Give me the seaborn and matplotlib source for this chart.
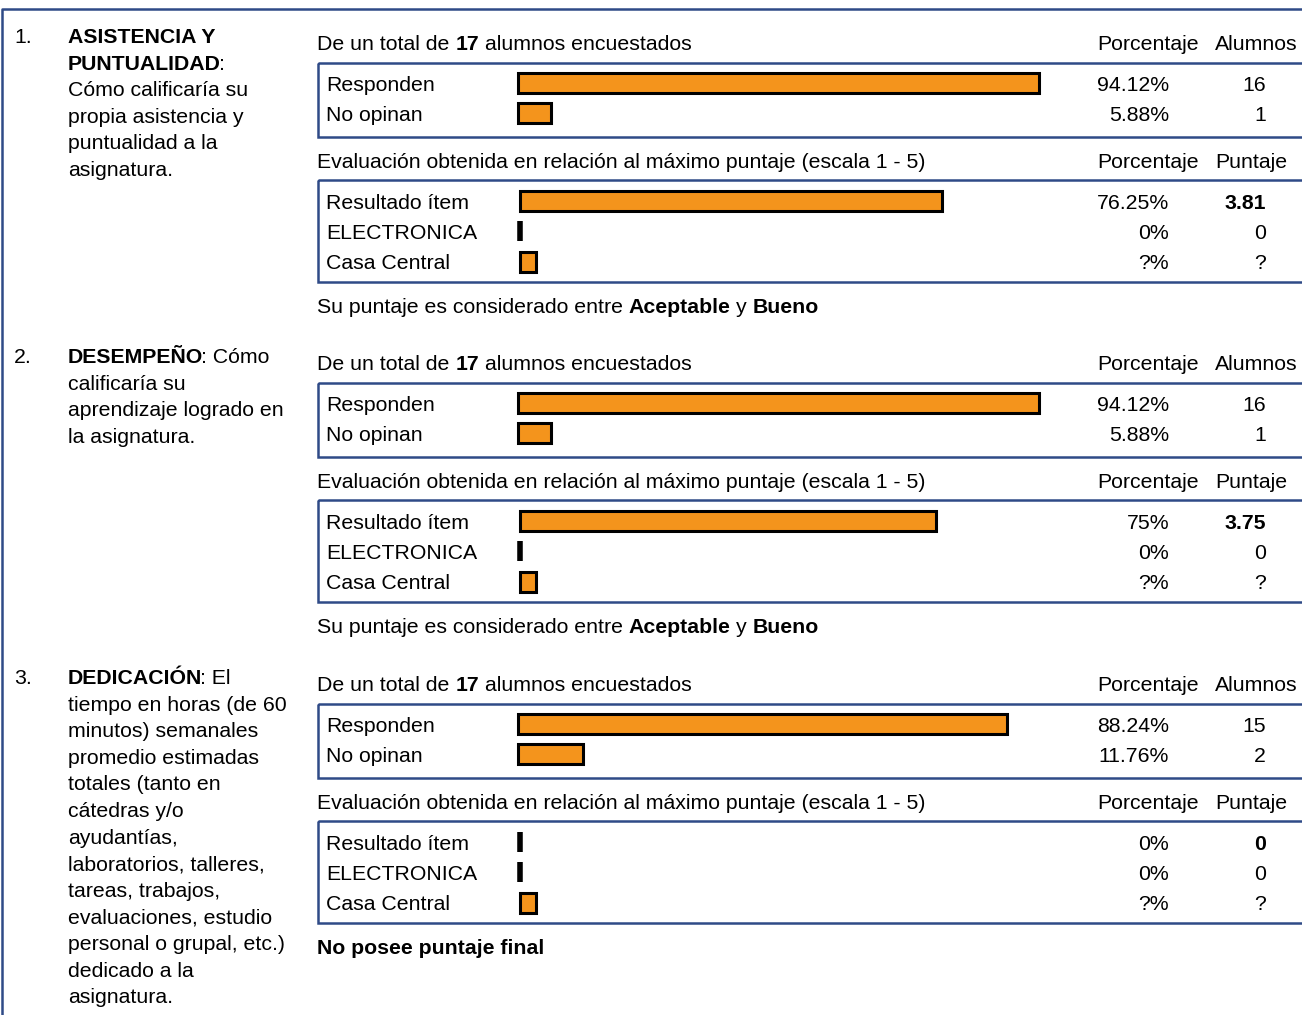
import numpy as np
import matplotlib
matplotlib.use("Agg")
import matplotlib.pyplot as plt
from matplotlib.patches import Rectangle
from matplotlib.font_manager import FontProperties, findfont, get_font
import seaborn as sns

# -----------------------------
# Data
# -----------------------------
total_alumnos = 17
item_numbers = ["1.", "2.", "3."]
item_lines = [
    [[("ASISTENCIA Y", True)],
     [("PUNTUALIDAD", True), (":", False)],
     [("Cómo calificaría su", False)],
     [("propia asistencia y", False)],
     [("puntualidad a la", False)],
     [("asignatura.", False)]],
    [[("DESEMPEÑO", True), (": Cómo", False)],
     [("calificaría su", False)],
     [("aprendizaje logrado en", False)],
     [("la asignatura.", False)]],
    [[("DEDICACIÓN", True), (": El", False)],
     [("tiempo en horas (de 60", False)],
     [("minutos) semanales", False)],
     [("promedio estimadas", False)],
     [("totales (tanto en", False)],
     [("cátedras y/o", False)],
     [("ayudantías,", False)],
     [("laboratorios, talleres,", False)],
     [("tareas, trabajos,", False)],
     [("evaluaciones, estudio", False)],
     [("personal o grupal, etc.)", False)],
     [("dedicado a la", False)],
     [("asignatura.", False)]],
]

resp_labels = ["Responden", "No opinan"]
resp_pct = [[94.12, 5.88], [94.12, 5.88], [88.24, 11.76]]
resp_n = [[16, 1], [16, 1], [15, 2]]

eval_labels = ["Resultado ítem", "ELECTRONICA", "Casa Central"]
eval_pct = [[76.25, 0, 2.8], [75.0, 0, 2.8], [0, 0, 2.8]]   # Casa Central bar length estimated
eval_pct_txt = [["76.25%", "0%", "?%"], ["75%", "0%", "?%"], ["0%", "0%", "?%"]]
eval_score_txt = [["3.81", "0", "?"], ["3.75", "0", "?"], ["0", "0", "?"]]

verdicts = [
    [("Su puntaje es considerado entre ", False), ("Aceptable", True), (" y ", False), ("Bueno", True)],
    [("Su puntaje es considerado entre ", False), ("Aceptable", True), (" y ", False), ("Bueno", True)],
    [("No posee puntaje final", True)],
]

# -----------------------------
# Style
# -----------------------------
sns.set_style("white")
plt.rcParams["font.family"] = ["Liberation Sans", "DejaVu Sans"]
plt.rcParams["text.color"] = "black"

BLUE = "#2F4A87"
ORANGE = "#F4941C"
W, H = 1302, 1015
FS = 15.3

fig = plt.figure(figsize=(W / 100, H / 100), dpi=100)
ax = fig.add_axes([0, 0, 1, 1])
ax.set_xlim(0, W)
ax.set_ylim(H, 0)
ax.axis("off")


def adv_width(s, size, bold):
    prop = FontProperties(family="Liberation Sans", weight="bold" if bold else "normal")
    font = get_font(findfont(prop))
    font.set_size(size, 100)
    return sum(font.load_char(ord(c)).linearHoriAdvance for c in s) / 65536


def rich(x, y, parts, size=FS):
    for s, bold in parts:
        if s.startswith(":"):
            x -= 2.5
        lead = s[:len(s) - len(s.lstrip())]
        ax.text(x + adv_width(lead, size, bold), y, s.strip(), fontsize=size,
                va="baseline", fontweight="bold" if bold else "normal")
        x += adv_width(s, size, bold)


def px_axes(x0, top, w, h):
    return fig.add_axes([x0 / W, 1 - (top + h) / H, w / W, h / H])


def bars(x0, top, row_h, labels, vals):
    bax = px_axes(x0, top, 554, row_h * len(labels))
    sns.barplot(x=vals, y=labels, orient="h", color=ORANGE, saturation=1,
                edgecolor="black", linewidth=2.2, width=0.66, errorbar=None, ax=bax)
    bax.set_xlim(0, 100)
    bax.set_ylim(len(labels) - 0.5, -0.5)
    bax.axis("off")
    for p in bax.patches:
        p.set_clip_on(False)
        if p.get_width() == 0:
            p.set_linewidth(4)


# outer frame
ax.plot([2, 2, W + 5], [H + 5, 9, 9], color=BLUE, lw=1.8, solid_capstyle="butt")

offsets = [0, 320, 641]
for k, off in enumerate(offsets):
    # left column
    ax.text(14, 43 + off, item_numbers[k], fontsize=FS, va="baseline")
    for i, line in enumerate(item_lines[k]):
        rich(68, 43 + off + i * 26.6, line)

    # respondents block
    rich(317, 50 + off, [("De un total de ", False), (str(total_alumnos), True),
                         (" alumnos encuestados", False)])
    ax.text(1097, 50 + off, "Porcentaje", fontsize=FS, va="baseline")
    ax.text(1215, 50 + off, "Alumnos", fontsize=FS, va="baseline")
    ax.add_patch(Rectangle((318, 63 + off), W, 74, fill=False, ec=BLUE, lw=1.8))
    for j, lab in enumerate(resp_labels):
        y = 91 + off + j * 30
        ax.text(326, y, lab, fontsize=FS, va="baseline")
        ax.text(1169, y, f"{resp_pct[k][j]:.2f}%", fontsize=FS, va="baseline", ha="right")
        ax.text(1266, y, str(resp_n[k][j]), fontsize=FS, va="baseline", ha="right")
    bars(518, 68 + off, 30, resp_labels, resp_pct[k])

    # evaluation block
    ax.text(317, 168 + off, "Evaluación obtenida en relación al máximo puntaje (escala 1 - 5)",
            fontsize=FS, va="baseline")
    ax.text(1097, 168 + off, "Porcentaje", fontsize=FS, va="baseline")
    ax.text(1215, 168 + off, "Puntaje", fontsize=FS, va="baseline")
    ax.add_patch(Rectangle((318, 180 + off), W, 102, fill=False, ec=BLUE, lw=1.8))
    for j, lab in enumerate(eval_labels):
        y = 209 + off + j * 30
        ax.text(326, y, lab, fontsize=FS, va="baseline")
        ax.text(1169, y, eval_pct_txt[k][j], fontsize=FS, va="baseline", ha="right")
        ax.text(1266, y, eval_score_txt[k][j], fontsize=FS, va="baseline", ha="right",
                fontweight="bold" if j == 0 else "normal")
    bars(520, 186 + off, 30.3, eval_labels, eval_pct[k])

    rich(317, 313 + off, verdicts[k])

fig.savefig("out.png", dpi=100)
